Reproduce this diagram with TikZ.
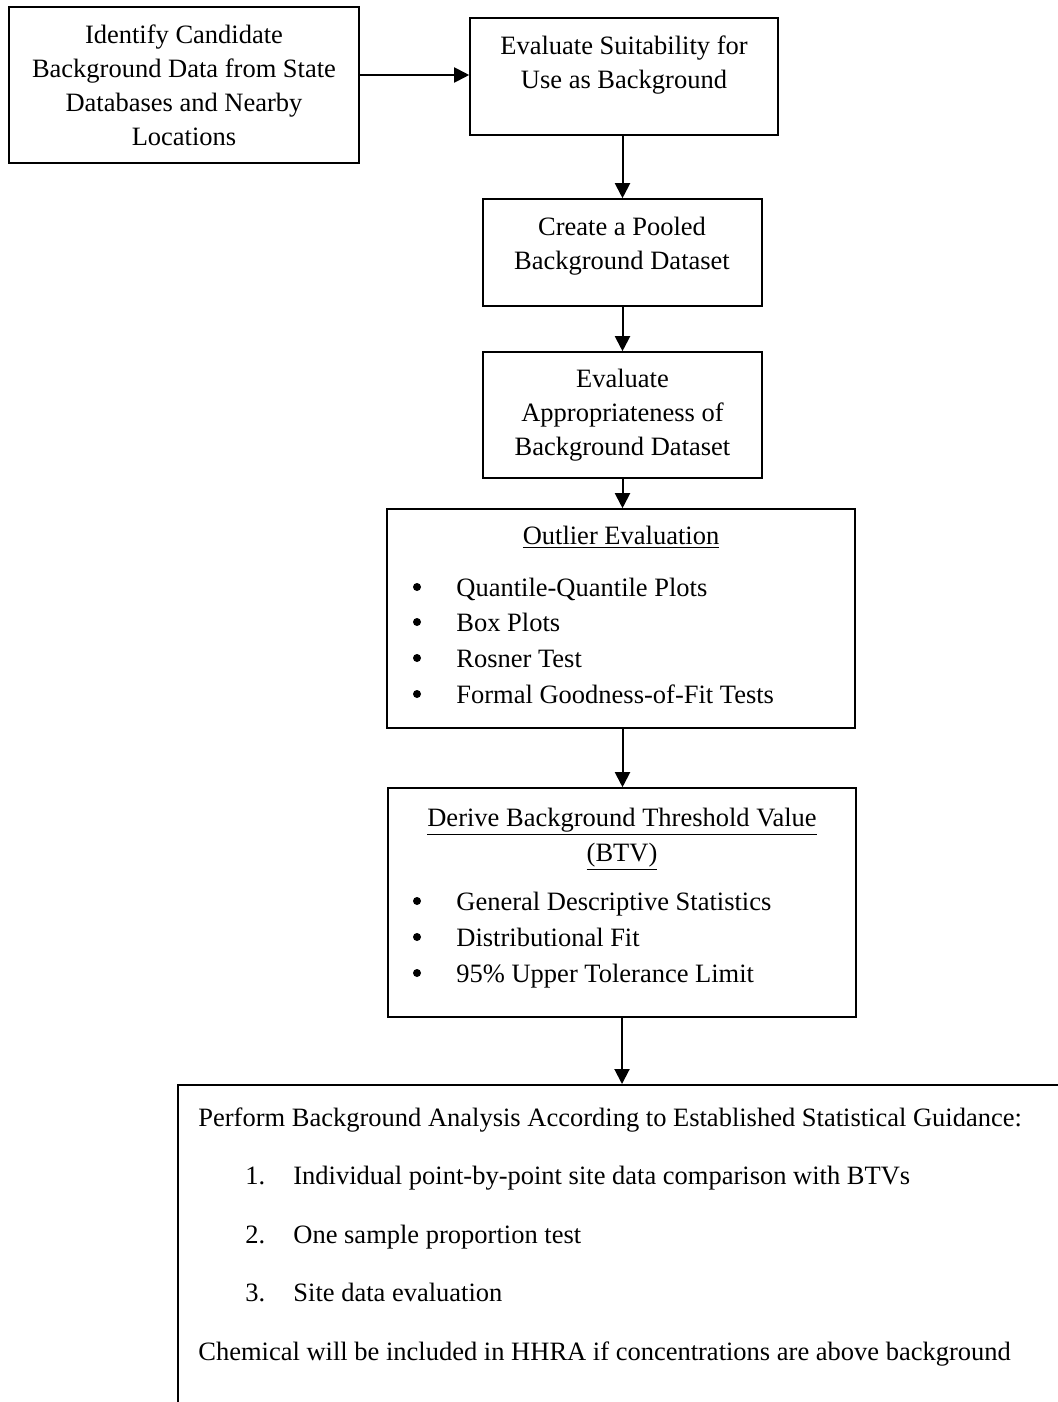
\documentclass[tikz,border=0pt]{standalone}
\usepackage{fontspec}
\setmainfont{Liberation Serif}
\usetikzlibrary{positioning,arrows.meta}
\newcommand{\flowfont}{\fontsize{13.25pt}{17pt}\selectfont}
\tikzset{
  box/.style={draw,line width=0.8pt,align=center,inner sep=0pt,font=\flowfont},
  txt/.style={inner sep=0pt,font=\flowfont},
  dot/.style={circle,fill,inner sep=0pt,minimum size=4pt},
  arr/.style={-{Triangle[length=7.5pt,width=7.5pt]},line width=1pt},
}

\begin{document}
\begin{tikzpicture}[x=0.5pt,y=-0.5pt]
\useasboundingbox (0,0) rectangle (1058,1402);
\clip (0,0) rectangle (1058,1402);
% boxes
\node[box, minimum width=175pt, minimum height=78pt] (ident) at (184,85)
  {Identify Candidate\\Background Data from State\\Databases and Nearby\\Locations};
\node[box, minimum width=154pt, minimum height=58.5pt] (suit) at (624,76.5) {};
\node[box, minimum width=139.5pt, minimum height=53.5pt] (pool) at (622.5,252.5) {};
\node[box, minimum width=139.5pt, minimum height=63pt] (approp) at (622.5,415)
  {Evaluate\\Appropriateness of\\Background Dataset};
\node[box, minimum width=234pt, minimum height=109.5pt] (outlier) at (621,618.5) {};
\node[box, minimum width=234pt, minimum height=114.5pt] (btv) at (622,902.5) {};
\node[box, anchor=north west, minimum width=520pt, minimum height=200pt] (perform) at (177,1084) {};
% texts
\node[txt, align=center] (suittxt) at (624,65) {Evaluate Suitability for\\Use as Background};
\node[txt, align=center] (pooltxt) at (622,246) {Create a Pooled\\Background Dataset};
\node[txt, anchor=base] (outhead) at (621,544) {\underline{Outlier Evaluation}};
\foreach \y/\t [count=\i] in {596/Quantile-Quantile Plots, 631/Box Plots, 667/Rosner Test, 703/Formal Goodness-of-Fit Tests}{
  \node[dot] (obul\i) at (417,\y-9) {};
  \node[txt, anchor=base west] (oitem\i) at (456,\y) {\t};
}
\node[txt, anchor=base] (btvhead) at (622,826) {\underline{Derive Background Threshold Value}};
\node[txt, anchor=base] (btvhead2) at (622,861) {\underline{(BTV)}};
\foreach \y/\t [count=\i] in {910/General Descriptive Statistics, 946/Distributional Fit, 982/95\% Upper Tolerance Limit}{
  \node[dot] (bbul\i) at (417,\y-9) {};
  \node[txt, anchor=base west] (bitem\i) at (456,\y) {\t};
}
\node[txt, anchor=base west] (perfhead) at (198,1126)
  {Perform Background Analysis According to Established Statistical Guidance:};
\foreach \y/\t [count=\i] in {1184/Individual point-by-point site data comparison with BTVs, 1243/One sample proportion test, 1301/Site data evaluation}{
  \node[txt, anchor=base west] (pnum\i) at (245,\y) {\i.};
  \node[txt, anchor=base west] (pitem\i) at (293,\y) {\t};
}
\node[txt, anchor=base west] (perfnote) at (198,1360)
  {Chemical will be included in HHRA if concentrations are above background};
% arrows
\draw[arr] ([yshift=5pt]ident.east) -- ([yshift=5pt]ident.east -| suit.west);
\draw[arr] (pool.north |- suit.south) -- (pool.north);
\draw[arr] (pool.south) -- (approp.north);
\draw[arr] (approp.south) -- (approp.south |- outlier.north);
\draw[arr] (approp.south |- outlier.south) -- (approp.south |- btv.north);
\draw[arr] (btv.south) -- (btv.south |- perform.north);
\end{tikzpicture}
\end{document}
